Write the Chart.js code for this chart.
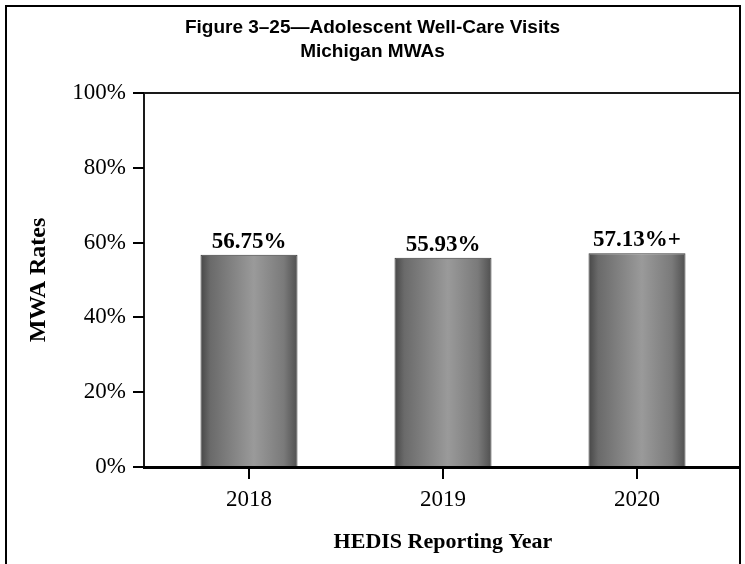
<!DOCTYPE html>
<html>
<head>
<meta charset="utf-8">
<script src="https://cdn.jsdelivr.net/npm/chart.js@4"></script>
<style>
  html, body { margin: 0; padding: 0; background: #fff; overflow: hidden; }
  #wrap { position: relative; width: 745px; height: 564px; }
  #frame { position: absolute; left: 5px; top: 5px; width: 732px; height: 700px; border: 2px solid #000; pointer-events: none; }
  canvas { position: absolute; left: 0; top: 0; }
</style>
</head>
<body>
<div id="wrap">
  <canvas id="c" width="745" height="564"></canvas>
  <div id="frame"></div>
</div>
<script>
const categories = ['2018', '2019', '2020'];
const rates = [56.75, 55.93, 57.13];
const valueLabels = ['56.75%', '55.93%', '57.13%+'];
const yTicks = [0, 20, 40, 60, 80, 100];
const titleLines = ['Figure 3\u201325\u2014Adolescent Well-Care Visits', 'Michigan MWAs'];

const serif = "'Liberation Serif', 'Times New Roman', serif";
const BAR_PCT = 0.5;
const FRAME_GAP = 8;

function barGradient(context) {
  const chart = context.chart;
  const area = chart.chartArea;
  if (!area) return '#888';
  const xs = chart.scales.x;
  const cx = xs.getPixelForValue(context.dataIndex);
  const w = (area.right - area.left) / categories.length * BAR_PCT;
  const g = chart.ctx.createLinearGradient(cx - w / 2, 0, cx + w / 2, 0);
  g.addColorStop(0, '#474747');
  g.addColorStop(0.1, '#6a6a6a');
  g.addColorStop(0.55, '#9a9a9a');
  g.addColorStop(0.86, '#7a7a7a');
  g.addColorStop(1, '#505050');
  return g;
}

// Plot frame sits a little outside the category band, as in the reference
const framePlugin = {
  id: 'framePlugin',
  afterDraw(chart) {
    const {ctx, chartArea: a} = chart;
    const ys = chart.scales.y;
    const L = a.left - FRAME_GAP, R = a.right + FRAME_GAP - 2;
    ctx.save();
    ctx.strokeStyle = '#1a1a1a';
    ctx.lineWidth = 2;
    ctx.beginPath();
    ctx.moveTo(L, a.bottom);
    ctx.lineTo(L, a.top);
    ctx.lineTo(R, a.top);
    ctx.lineTo(R, a.bottom);
    ctx.stroke();
    // y tick marks
    ctx.strokeStyle = '#000';
    ctx.beginPath();
    yTicks.forEach(v => {
      const y = Math.round(ys.getPixelForValue(v));
      ctx.moveTo(L - 11, y);
      ctx.lineTo(L, y);
    });
    ctx.stroke();
    // thick baseline
    ctx.lineWidth = 3;
    ctx.beginPath();
    ctx.moveTo(L - 1, a.bottom + 0.5);
    ctx.lineTo(R + 1, a.bottom + 0.5);
    ctx.stroke();
    ctx.restore();
  }
};

const valueLabelPlugin = {
  id: 'valueLabelPlugin',
  afterDatasetsDraw(chart) {
    const {ctx} = chart;
    const meta = chart.getDatasetMeta(0);
    ctx.save();
    ctx.font = "bold 23px " + serif;
    ctx.fillStyle = '#000';
    ctx.textAlign = 'center';
    ctx.textBaseline = 'alphabetic';
    meta.data.forEach((bar, i) => {
      ctx.fillText(valueLabels[i], bar.x, bar.y - 7);
    });
    ctx.restore();
  }
};

new Chart(document.getElementById('c'), {
  type: 'bar',
  data: {
    labels: categories,
    datasets: [{
      data: rates,
      backgroundColor: barGradient,
      borderColor: '#3a3a3a',
      borderWidth: 1,
      borderSkipped: 'bottom',
      categoryPercentage: 1,
      barPercentage: BAR_PCT
    }]
  },
  options: {
    responsive: false,
    animation: false,
    devicePixelRatio: 1,
    layout: { padding: { left: 11, right: 11, top: 0, bottom: 0 } },
    plugins: {
      legend: { display: false },
      tooltip: { enabled: false },
      title: {
        display: true,
        text: titleLines,
        color: '#000',
        font: { family: "'Liberation Sans Narrow', 'Liberation Sans', sans-serif", size: 19, weight: 'bold', lineHeight: 1.2632 },
        padding: { top: 16, bottom: 29 }
      }
    },
    scales: {
      x: {
        afterFit(scale) { scale.height = 97; },
        grid: { display: true, drawOnChartArea: false, drawTicks: true, tickLength: 12, offset: false, color: '#000', lineWidth: 2 },
        border: { display: false },
        ticks: { color: '#000', font: { family: serif, size: 23, lineHeight: 1.2 }, padding: 7 },
        title: {
          display: true,
          text: 'HEDIS Reporting Year',
          color: '#000',
          font: { family: serif, size: 22, weight: 'bold', lineHeight: 1.2 },
          padding: { top: 0, bottom: 8 }
        }
      },
      y: {
        min: 0,
        max: 100,
        afterFit(scale) { scale.width = 141; },
        afterBuildTicks(scale) { scale.ticks = yTicks.map(v => ({ value: v })); },
        grid: { display: true, drawOnChartArea: false, drawTicks: false, color: 'rgba(0,0,0,0)' },
        border: { display: false },
        ticks: { color: '#000', font: { family: serif, size: 23 }, padding: 26, callback: v => v + '%' },
        title: {
          display: true,
          text: 'MWA Rates',
          color: '#000',
          font: { family: serif, size: 24, weight: 'bold', lineHeight: 1.2 },
          padding: { top: 13, bottom: 0 }
        }
      }
    }
  },
  plugins: [framePlugin, valueLabelPlugin]
});
</script>
</body>
</html>
